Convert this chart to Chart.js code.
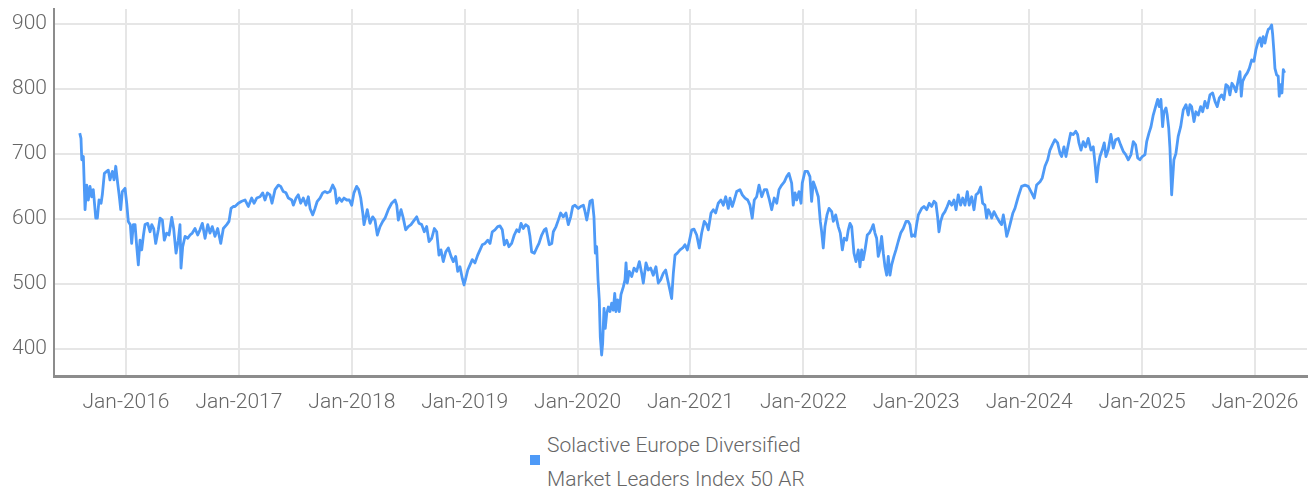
<!DOCTYPE html>
<html>
<head>
<meta charset="utf-8">
<script src="https://cdn.jsdelivr.net/npm/chart.js@4.4.1/dist/chart.umd.min.js"></script>
<style>
  html, body { margin: 0; background: #fff; }
  #wrap { position: relative; width: 1309px; height: 490px; }
  #chartBox { position: absolute; left: 0; top: 0; width: 1309px; height: 420px; }
  .legend-box { position: absolute; left: 530px; top: 455px; width: 10px; height: 10px; background: #4e9af7; }
  .legend-text { position: absolute; left: 547px; top: 428px; font: 300 21px Roboto, sans-serif; line-height: 34px; color: #666; white-space: nowrap; }
</style>
</head>
<body>
<div id="wrap">
  <div id="chartBox"><canvas id="indexChart" width="1309" height="420"></canvas></div>
  <div class="legend-box"></div>
  <div class="legend-text">Solactive Europe Diversified<br>Market Leaders Index 50 AR</div>
</div>
<script>
// dates as decimal years
const dates = [
  2015.590,2015.601,2015.608,2015.622,2015.637,2015.652,2015.666,2015.681,2015.696,2015.710,
  2015.732,2015.746,2015.761,2015.779,2015.790,2015.808,2015.829,2015.843,2015.858,2015.879,
  2015.894,2015.909,2015.926,2015.941,2015.953,2015.967,2015.991,2016.006,2016.020,2016.038,
  2016.050,2016.065,2016.080,2016.095,2016.109,2016.124,2016.139,2016.153,2016.168,2016.192,
  2016.213,2016.228,2016.245,2016.263,2016.286,2016.301,2016.322,2016.339,2016.360,2016.381,
  2016.405,2016.422,2016.443,2016.463,2016.478,2016.487,2016.502,2016.523,2016.547,2016.567,
  2016.587,2016.611,2016.635,2016.655,2016.676,2016.700,2016.724,2016.744,2016.764,2016.788,
  2016.812,2016.839,2016.862,2016.892,2016.912,2016.930,2016.950,2016.965,2016.995,2017.025,
  2017.054,2017.083,2017.113,2017.134,2017.158,2017.187,2017.211,2017.231,2017.252,2017.275,
  2017.293,2017.320,2017.349,2017.370,2017.393,2017.417,2017.438,2017.468,2017.482,2017.506,
  2017.526,2017.547,2017.570,2017.594,2017.615,2017.630,2017.654,2017.674,2017.694,2017.718,
  2017.742,2017.763,2017.783,2017.807,2017.831,2017.851,2017.866,2017.889,2017.911,2017.931,
  2017.955,2017.978,2017.999,2018.019,2018.043,2018.061,2018.079,2018.097,2018.108,2018.137,
  2018.146,2018.161,2018.185,2018.205,2018.226,2018.250,2018.274,2018.294,2018.323,2018.353,
  2018.383,2018.398,2018.412,2018.436,2018.456,2018.477,2018.500,2018.524,2018.545,2018.575,
  2018.595,2018.619,2018.642,2018.663,2018.684,2018.708,2018.731,2018.752,2018.772,2018.790,
  2018.810,2018.832,2018.855,2018.879,2018.899,2018.920,2018.938,2018.958,2018.979,2018.994,
  2019.009,2019.027,2019.047,2019.067,2019.091,2019.115,2019.136,2019.156,2019.180,2019.204,
  2019.224,2019.244,2019.268,2019.292,2019.313,2019.333,2019.351,2019.372,2019.392,2019.416,
  2019.439,2019.461,2019.481,2019.499,2019.519,2019.540,2019.563,2019.578,2019.593,2019.617,
  2019.638,2019.658,2019.682,2019.705,2019.720,2019.749,2019.771,2019.785,2019.809,2019.829,
  2019.850,2019.873,2019.897,2019.918,2019.939,2019.957,2019.977,2020.006,2020.027,2020.051,
  2020.066,2020.081,2020.095,2020.110,2020.130,2020.145,2020.157,2020.169,2020.181,2020.192,
  2020.201,2020.213,2020.222,2020.234,2020.245,2020.258,2020.272,2020.287,2020.302,2020.316,
  2020.329,2020.340,2020.355,2020.369,2020.384,2020.405,2020.420,2020.429,2020.440,2020.458,
  2020.479,2020.500,2020.523,2020.547,2020.568,2020.582,2020.606,2020.626,2020.647,2020.670,
  2020.694,2020.715,2020.736,2020.759,2020.780,2020.798,2020.818,2020.833,2020.848,2020.863,
  2020.883,2020.907,2020.931,2020.951,2020.972,2020.989,2021.011,2021.031,2021.055,2021.078,
  2021.099,2021.122,2021.143,2021.158,2021.182,2021.202,2021.223,2021.246,2021.270,2021.291,
  2021.312,2021.335,2021.350,2021.370,2021.388,2021.409,2021.438,2021.459,2021.483,2021.507,
  2021.527,2021.547,2021.565,2021.586,2021.607,2021.631,2021.654,2021.675,2021.695,2021.719,
  2021.742,2021.764,2021.784,2021.808,2021.831,2021.852,2021.872,2021.896,2021.910,2021.926,
  2021.941,2021.961,2021.979,2021.990,2022.014,2022.038,2022.058,2022.073,2022.088,2022.109,
  2022.132,2022.150,2022.162,2022.176,2022.191,2022.209,2022.227,2022.251,2022.265,2022.286,
  2022.309,2022.327,2022.345,2022.362,2022.383,2022.398,2022.413,2022.428,2022.448,2022.466,
  2022.486,2022.501,2022.516,2022.530,2022.546,2022.566,2022.584,2022.605,2022.619,2022.634,
  2022.649,2022.663,2022.678,2022.693,2022.708,2022.723,2022.738,2022.752,2022.767,2022.782,
  2022.802,2022.820,2022.840,2022.862,2022.885,2022.909,2022.929,2022.944,2022.959,2022.973,
  2022.988,2023.003,2023.018,2023.033,2023.048,2023.068,2023.092,2023.115,2023.136,2023.157,
  2023.174,2023.189,2023.201,2023.216,2023.234,2023.254,2023.274,2023.292,2023.314,2023.334,
  2023.352,2023.372,2023.393,2023.411,2023.431,2023.452,2023.469,2023.491,2023.511,2023.529,
  2023.549,2023.570,2023.588,2023.608,2023.623,2023.638,2023.653,2023.668,2023.688,2023.712,
  2023.735,2023.756,2023.771,2023.786,2023.801,2023.818,2023.830,2023.856,2023.874,2023.903,
  2023.933,2023.963,2023.992,2024.022,2024.045,2024.066,2024.096,2024.116,2024.140,2024.164,
  2024.184,2024.205,2024.228,2024.252,2024.273,2024.288,2024.308,2024.326,2024.346,2024.367,
  2024.391,2024.412,2024.429,2024.441,2024.459,2024.479,2024.500,2024.523,2024.547,2024.568,
  2024.583,2024.598,2024.612,2024.627,2024.647,2024.665,2024.680,2024.700,2024.724,2024.745,
  2024.766,2024.789,2024.810,2024.833,2024.855,2024.878,2024.902,2024.922,2024.943,2024.961,
  2024.981,2025.002,2025.026,2025.041,2025.061,2025.079,2025.099,2025.120,2025.138,2025.152,
  2025.167,2025.182,2025.194,2025.212,2025.223,2025.236,2025.247,2025.262,2025.282,2025.300,
  2025.320,2025.342,2025.365,2025.389,2025.409,2025.424,2025.439,2025.460,2025.477,2025.498,
  2025.519,2025.537,2025.557,2025.578,2025.601,2025.625,2025.646,2025.666,2025.684,2025.705,
  2025.725,2025.743,2025.763,2025.778,2025.796,2025.814,2025.832,2025.850,2025.867,2025.879,
  2025.891,2025.912,2025.932,2025.950,2025.971,2025.991,2026.009,2026.029,2026.044,2026.059,
  2026.073,2026.089,2026.104,2026.118,2026.133,2026.148,2026.157,2026.168,2026.177,2026.192,
  2026.206,2026.215,2026.228,2026.239,2026.251,2026.263
];

const values = [
  732,724,691,696,614,652,629,650,634,645,
  601,601,629,624,637,670,673,675,660,673,
  660,681,655,634,614,642,647,624,596,591,
  562,591,591,557,529,567,552,573,591,593,
  580,591,585,562,583,601,598,567,578,575,
  602,585,547,567,591,524,557,573,570,575,
  578,585,575,583,593,570,591,578,588,573,
  585,562,585,591,596,616,619,619,624,627,
  629,619,632,624,632,634,640,629,640,637,
  624,645,652,650,642,640,632,629,621,632,
  637,624,632,621,634,616,606,616,627,632,
  640,642,640,642,652,645,624,632,627,632,
  629,629,621,640,650,645,632,609,591,614,
  606,593,603,598,575,588,596,601,614,624,
  629,621,598,614,601,583,588,591,596,603,
  593,591,580,588,565,570,585,580,544,552,
  534,549,555,542,534,542,519,526,508,498,
  508,521,529,537,532,544,552,560,562,567,
  562,580,583,588,589,583,560,567,557,562,
  575,583,580,593,585,591,588,573,549,547,
  555,562,575,583,585,560,562,580,588,598,
  609,603,609,591,603,619,621,616,619,621,
  611,598,611,627,629,603,547,557,506,475,
  418,390,408,462,431,454,464,457,470,459,
  485,457,475,457,483,495,506,532,501,519,
  511,524,519,534,516,501,532,521,524,513,
  526,501,506,516,521,506,490,477,516,544,
  547,552,555,560,552,565,583,584,575,555,
  578,596,591,583,609,614,609,624,629,621,
  634,616,632,619,629,642,645,637,632,629,
  621,601,629,634,652,634,645,645,632,614,
  632,624,645,652,657,665,670,655,621,640,
  629,642,624,655,673,673,665,627,657,647,
  634,596,580,555,588,606,616,611,596,606,
  588,578,552,570,567,583,593,588,547,534,
  552,526,552,537,552,575,578,585,591,578,
  570,542,552,573,547,526,513,542,513,529,
  542,552,565,578,585,596,596,591,573,575,
  573,591,606,611,616,619,614,624,619,627,
  624,603,580,596,606,611,619,627,621,629,
  614,637,621,632,621,642,621,634,614,637,
  640,649,624,621,601,614,609,601,611,603,
  596,591,606,591,573,583,591,609,616,634,
  650,652,650,640,632,652,657,663,681,691,
  706,714,722,717,701,696,711,696,714,732,
  730,735,730,717,706,719,711,724,706,711,
  686,657,681,696,706,717,696,706,730,709,
  722,724,714,704,699,691,699,719,714,694,
  691,696,699,719,732,742,760,773,784,773,
  784,742,765,771,760,740,709,637,691,701,
  727,742,768,776,760,776,773,750,765,760,
  773,765,781,771,791,794,781,773,786,791,
  784,807,804,791,809,804,796,812,827,789,
  812,820,825,832,845,843,861,874,879,866,
  881,871,884,892,894,899,884,858,832,822,
  820,789,807,794,830,825
];

const tickYears = [2016, 2017, 2018, 2019, 2020, 2021, 2022, 2023, 2024, 2025, 2026];
const tickValues = [400, 500, 600, 700, 800, 900];
const seriesName = "Solactive Europe Diversified Market Leaders Index 50 AR";

const tickFont = { family: "Roboto", size: 21, weight: 300 };
const gridColor = "#e6e6e6";
const axisColor = "#8c8c8c";

const points = dates.map((d, i) => ({ x: d, y: values[i] }));

// no automatic label margins, the plot box is fixed
function noMargins(s) {
  s.paddingTop = 0;
  s.paddingBottom = 0;
  s.paddingLeft = 0;
  s.paddingRight = 0;
}

new Chart(document.getElementById("indexChart"), {
  type: "line",
  data: {
    datasets: [{
      label: seriesName,
      data: points,
      borderColor: "#4e9af7",
      borderWidth: 2.8,
      pointRadius: 0,
      tension: 0,
      fill: false,
      borderJoinStyle: "round"
    }]
  },
  options: {
    responsive: false,
    animation: false,
    devicePixelRatio: 1,
    layout: { padding: { top: 9, right: 2, left: 0, bottom: 0 } },
    plugins: {
      legend: { display: false },
      tooltip: { enabled: false }
    },
    scales: {
      x: {
        type: "linear",
        min: 2015.362,
        max: 2026.461,
        afterBuildTicks: s => { s.ticks = tickYears.map(v => ({ value: v })); },
        afterFit: s => { s.height = 44; noMargins(s); },
        ticks: {
          callback: v => "Jan-" + v,
          font: tickFont,
          color: "#666",
          padding: 14,
          maxRotation: 0,
          autoSkip: false
        },
        grid: { color: gridColor, lineWidth: 2, drawTicks: false },
        border: { display: true, color: axisColor, width: 3 }
      },
      y: {
        min: 357.6,
        max: 923.5,
        afterBuildTicks: s => { s.ticks = tickValues.map(v => ({ value: v })); },
        afterFit: s => { s.width = 54; noMargins(s); },
        ticks: {
          font: tickFont,
          color: "#666",
          padding: 7
        },
        grid: { color: gridColor, lineWidth: 2, drawTicks: false },
        border: { display: true, color: axisColor, width: 2 }
      }
    }
  }
});
</script>
</body>
</html>
